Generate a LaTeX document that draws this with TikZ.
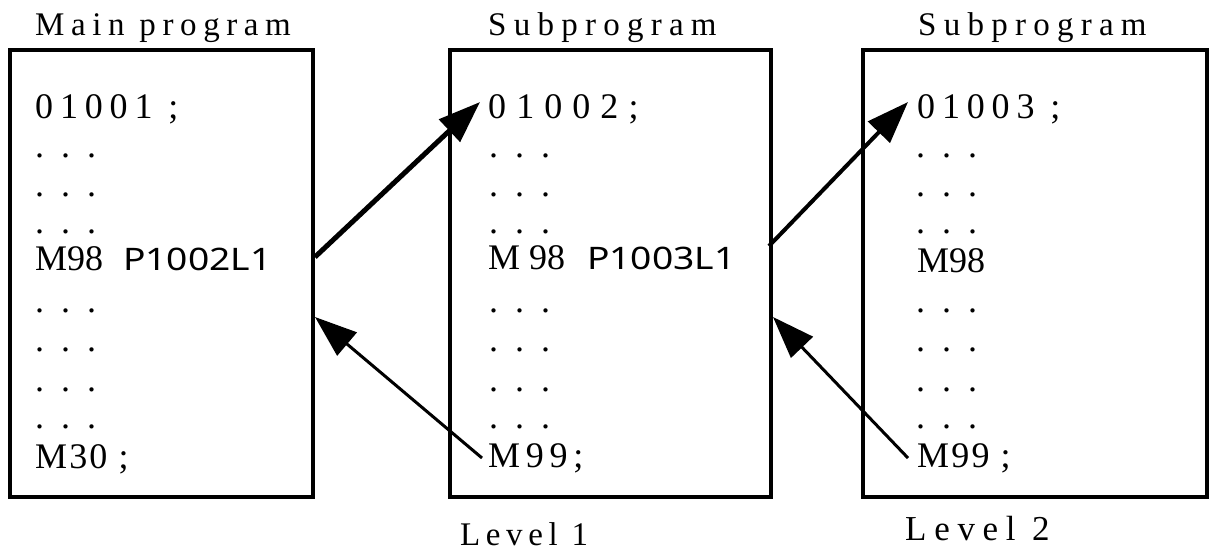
\documentclass[tikz,border=0pt]{standalone}
\usepackage{fontspec}
\setmainfont{Liberation Serif}
\newfontfamily\sansf{Noto Sans}
\usetikzlibrary{arrows.meta}
\newcommand\LS[2]{{\addfontfeature{LetterSpace=#1}#2}}
\newcommand\threedots{.\hspace{17pt}.\hspace{17pt}.}
\newcommand\wide[1]{\scalebox{1.2}[1]{#1}}
\begin{document}
\begin{tikzpicture}[x=1pt,y=-1pt,
  box/.style={draw, line width=4pt, inner sep=0pt, minimum height=447pt},
  title/.style={anchor=base west, inner sep=0pt, font=\fontsize{33}{40}\selectfont},
  code/.style={anchor=base west, inner sep=0pt, font=\fontsize{36}{40}\selectfont},
  sanscode/.style={anchor=base west, inner sep=0pt, font=\sansf\fontsize{31}{40}\selectfont},
  dots/.style={anchor=base west, inner sep=0pt, font=\fontsize{36}{40}\selectfont},
  arr/.style={-{Triangle[length=42pt,width=30pt]}},
]
\useasboundingbox (0,0) rectangle (1212,550);
% boxes
\node[box, minimum width=303pt] (b1) at (161.5,273.5) {};
\node[box, minimum width=321pt] (b2) at (610.5,273.5) {};
\node[box, minimum width=344pt] (b3) at (1035,273.5) {};
% titles
\node[title] (t1) at (35,35) {\LS{20}{Main program}};
\node[title] (t2) at (488,35) {\LS{22}{Subprogram}};
\node[title] (t3) at (918,35) {\LS{22}{Subprogram}};
% box 1
\node[code] (a1) at (35,118) {\LS{19}{01001 ;}};
\node[dots] (a2) at (35,157) {\threedots};
\node[dots] (a3) at (35,196) {\threedots};
\node[dots] (a4) at (35,233) {\threedots};
\node[code] (a5) at (35,270) {M98};
\node[sanscode] (a5p) at (123,270) {\wide{P1002L1}};
\node[dots] (a6) at (35,312) {\threedots};
\node[dots] (a7) at (35,351) {\threedots};
\node[dots] (a8) at (35,391) {\threedots};
\node[dots] (a9) at (35,428) {\threedots};
\node[code] (a10) at (35,468) {\LS{6}{M30 ;}};
% box 2
\node[code] (c1) at (488,118) {\LS{28}{01002;}};
\node[dots] (c2) at (489,157) {\threedots};
\node[dots] (c3) at (489,196) {\threedots};
\node[dots] (c4) at (489,233) {\threedots};
\node[code] (c5) at (488,269) {M 98};
\node[sanscode] (c5p) at (587,269) {\wide{P1003L1}};
\node[dots] (c6) at (489,312) {\threedots};
\node[dots] (c7) at (489,351) {\threedots};
\node[dots] (c8) at (489,391) {\threedots};
\node[dots] (c9) at (489,428) {\threedots};
\node[code] (c10) at (488,467) {\LS{16}{M99;}};
% box 3
\node[code] (d1) at (917,118) {\LS{19}{01003 ;}};
\node[dots] (d2) at (916,157) {\threedots};
\node[dots] (d3) at (916,196) {\threedots};
\node[dots] (d4) at (916,233) {\threedots};
\node[code] (d5) at (917,272) {M98};
\node[dots] (d6) at (916,312) {\threedots};
\node[dots] (d7) at (916,351) {\threedots};
\node[dots] (d8) at (916,391) {\threedots};
\node[dots] (d9) at (916,428) {\threedots};
\node[code] (d10) at (917,467) {\LS{6}{M99 ;}};
% levels
\node[title] (l1) at (460,545) {\LS{17}{Level 1}};
\node[title, font=\fontsize{35}{40}\selectfont] (l2) at (905,540) {\LS{22}{Level 2}};
% connector end points
\coordinate (s1) at (315,257);
\coordinate (e1) at (480,102);
\coordinate (s2) at (482,458);
\coordinate (e2) at (315,317);
\coordinate (s3) at (769,246);
\coordinate (e3) at (908,102);
\coordinate (s4) at (908,458);
\coordinate (e4) at (773,317);
\draw[arr, line width=5pt] (s1) -- (e1);
\draw[arr, line width=3pt] (s2) -- (e2);
\draw[arr, line width=4pt] (s3) -- (e3);
\draw[arr, line width=3pt] (s4) -- (e4);
\end{tikzpicture}
\end{document}
